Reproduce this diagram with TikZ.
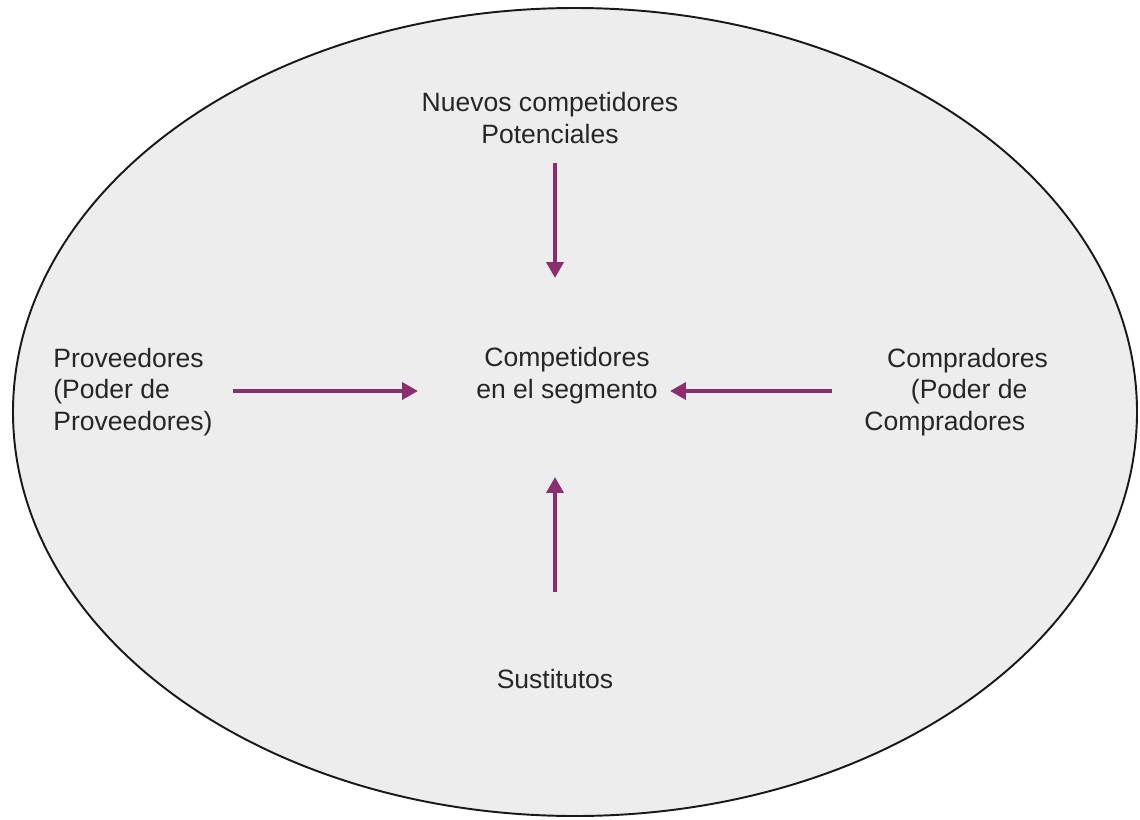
\documentclass[tikz,border=0pt]{standalone}
\usepackage{fontspec}
\setmainfont{Liberation Sans}
\usetikzlibrary{arrows.meta}
\definecolor{flechacolor}{RGB}{139,45,110}
\definecolor{fondo}{RGB}{237,237,237}
\begin{document}
\begin{tikzpicture}[x=0.02cm, y=-0.02cm,
  every node/.style={font=\fontsize{15.1}{17.9}\selectfont, text=black!85, inner sep=0pt},
  flecha/.style={draw=flechacolor, line width=2.8pt, -{Triangle[length=9pt,width=9.5pt]}}]
  \useasboundingbox (0,0) rectangle (1140,819);
  \draw[fill=fondo, draw=black!90, line width=1.1pt] (575,412) ellipse [x radius=562, y radius=404];

  \coordinate (n1) at (555,163);
  \coordinate (n2) at (555,278);
  \coordinate (p1) at (233,391);
  \coordinate (p2) at (418,391);
  \coordinate (c1) at (832,391);
  \coordinate (c2) at (670,391);
  \coordinate (s1) at (555,592);
  \coordinate (s2) at (555,477);

  \draw[flecha] (n1) -- (n2);
  \draw[flecha] (p1) -- (p2);
  \draw[flecha] (c1) -- (c2);
  \draw[flecha] (s1) -- (s2);

  \node[align=center, anchor=base] (nuevos) at (550,143) {Nuevos competidores\\Potenciales};
  \node[align=center, anchor=base] (centro) at (567,398) {Competidores\\en el segmento};
  \node[align=left, anchor=base west] (proveedores) at (53,430) {Proveedores\\(Poder de\\Proveedores)};
  \node[align=left, anchor=base west] (compradores) at (864,430) {\hspace*{13pt}Compradores\\\hspace*{26.5pt}(Poder de\\Compradores};
  \node[anchor=base] (sustitutos) at (555,688) {Sustitutos};
\end{tikzpicture}
\end{document}
